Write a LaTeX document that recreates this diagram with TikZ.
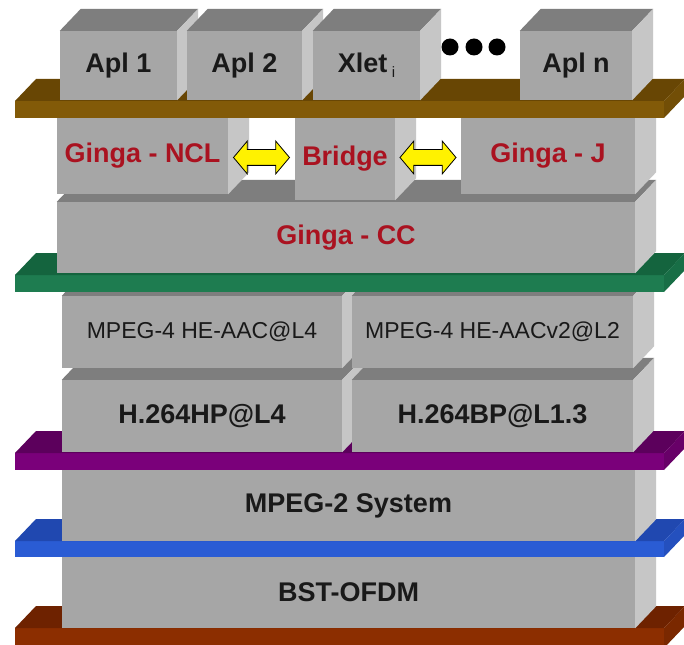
\documentclass[tikz,border=0pt]{standalone}
\usepackage{fontspec}
\setmainfont{Liberation Sans}
\usetikzlibrary{shapes.arrows,calc}

\definecolor{boxfront}{RGB}{166,166,166}
\definecolor{boxtop}{RGB}{126,126,126}
\definecolor{boxside}{RGB}{198,198,198}
\definecolor{gingared}{RGB}{170,18,32}
\definecolor{brownbar}{RGB}{130,90,8}
\definecolor{brownbartop}{RGB}{104,70,4}
\definecolor{brownbarside}{RGB}{114,78,6}
\definecolor{greenbar}{RGB}{30,124,80}
\definecolor{greenbartop}{RGB}{20,100,62}
\definecolor{greenbarside}{RGB}{24,110,70}
\definecolor{purplebar}{RGB}{122,0,122}
\definecolor{purplebartop}{RGB}{92,0,92}
\definecolor{purplebarside}{RGB}{104,0,104}
\definecolor{bluebar}{RGB}{42,92,212}
\definecolor{bluebartop}{RGB}{32,72,176}
\definecolor{bluebarside}{RGB}{36,80,190}
\definecolor{redbar}{RGB}{140,46,0}
\definecolor{redbartop}{RGB}{110,34,0}
\definecolor{redbarside}{RGB}{122,40,0}

\tikzset{
  stack/.style={fill=boxfront, inner sep=0pt, text=black!90,
    font=\fontsize{27}{30}\selectfont\bfseries},
  codeclabel/.style={font=\fontsize{23}{26}\selectfont},
  gingalabel/.style={text=gingared},
  bridgearrow/.style={shape=double arrow, fill=yellow, draw=black, line width=0.8pt,
    double arrow head extend=8.5pt, double arrow tip angle=100,
    inner xsep=0pt, inner ysep=7.5pt, minimum height=56pt, minimum width=32pt}
}

% top and right faces of a layer box
\newcommand{\cubefaces}[1]{%
  \fill[boxtop] (#1.north west) -- ++(21,-22) -- ([shift={(21,-22)}]#1.north east) -- (#1.north east) -- cycle;
  \fill[boxside] (#1.north east) -- ++(21,-22) -- ([shift={(21,-22)}]#1.south east) -- (#1.south east) -- cycle;
}
% coloured interface slab: top y, bottom y, colour
\newcommand{\layerslab}[3]{%
  \fill[#3] (15,#1) rectangle (664,#2);
  \fill[#3top] (15,#1) -- (36,#1-22) -- (685,#1-22) -- (664,#1) -- cycle;
  \fill[#3side] (664,#1) -- (685,#1-22) -- (685,#2-22) -- (664,#2) -- cycle;
}

\begin{document}
\begin{tikzpicture}[x=1pt,y=-1pt]
\useasboundingbox (0,0) rectangle (684,644);
\clip (0,0) rectangle (684,644);
\fill[white] (0,0) rectangle (684,644);

% transmission
\layerslab{628}{648}{redbar}
\node[stack, minimum width=573pt, minimum height=71pt] (bst) at (348.5,592.5) {BST-OFDM};
\cubefaces{bst}

% transport
\layerslab{541}{557}{bluebar}
\node[stack, minimum width=573pt, minimum height=71pt] (mpeg2) at (348.5,505.5) {MPEG-2 System};
\cubefaces{mpeg2}

% coding
\layerslab{453}{470}{purplebar}
\node[stack, minimum width=280pt, minimum height=72pt] (hpl4) at (202,416) {H.264HP@L4};
\cubefaces{hpl4}
\node[stack, minimum width=281pt, minimum height=72pt] (bpl13) at (492.5,416) {H.264BP@L1.3};
\cubefaces{bpl13}
\node[stack, codeclabel, minimum width=280pt, minimum height=72pt] (aacl4) at (202,332) {MPEG-4 HE-AAC@L4};
\cubefaces{aacl4}
\node[stack, codeclabel, minimum width=281pt, minimum height=72pt] (aacl2) at (492.5,332) {MPEG-4 HE-AACv2@L2};
\cubefaces{aacl2}

% middleware
\layerslab{275}{292}{greenbar}
\node[stack, gingalabel, minimum width=578pt, minimum height=71pt] (gingacc) at (346,237.5) {Ginga - CC};
\cubefaces{gingacc}
\node[stack, gingalabel, minimum width=171pt, minimum height=76pt] (ncl) at (142.5,156) {Ginga - NCL};
\cubefaces{ncl}
\node[stack, gingalabel, minimum width=100pt, minimum height=82pt] (bridge) at (345,159) {Bridge};
\cubefaces{bridge}
\node[stack, gingalabel, minimum width=174pt, minimum height=76pt] (gingaj) at (548,156) {Ginga - J};
\cubefaces{gingaj}
\node[bridgearrow] (arrowl) at ($(ncl.east)!0.5!(bridge.west)$) {};
\node[bridgearrow] (arrowr) at ($(bridge.east)!0.5!(gingaj.west)$) {};

% applications
\layerslab{101}{118}{brownbar}
\node[stack, minimum width=117pt, minimum height=69pt] (apl1) at (118.5,65.5) {Apl 1};
\cubefaces{apl1}
\node[stack, minimum width=115pt, minimum height=69pt] (apl2) at (244.5,65.5) {Apl 2};
\cubefaces{apl2}
\node[stack, minimum width=107pt, minimum height=69pt] (xlet) at (366.5,65.5) {Xlet\,\raisebox{-5pt}{\mdseries\fontsize{15}{15}\selectfont i}};
\cubefaces{xlet}
\node[stack, minimum width=112pt, minimum height=69pt] (apln) at (576,65.5) {Apl n};
\cubefaces{apln}
\foreach \dx in {450,474,497}
  \fill (\dx,47) circle (8.5pt);
\end{tikzpicture}
\end{document}
